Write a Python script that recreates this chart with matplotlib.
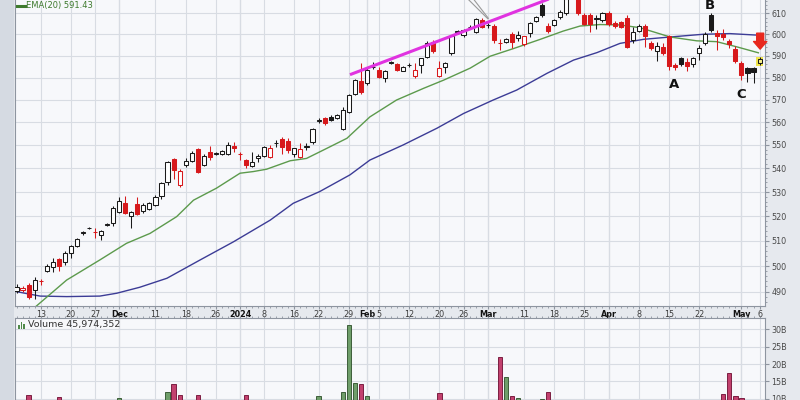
"""
Daily candlestick chart (Nov 2023 - May 2024) in a StockCharts-like style:
log price panel with EMA(20) and a slower moving average, a magenta trend line,
A/B/C swing labels, and a volume panel cut off at the bottom edge.
"""

import numpy as np
import matplotlib
matplotlib.use("Agg")
import matplotlib.pyplot as plt
from matplotlib.lines import Line2D
from matplotlib.patches import Rectangle
from matplotlib.ticker import FixedLocator, NullFormatter


# ---- data -----------------------------------------------------------------
OPEN = [490.2, 490.5, 492.6, 490.6, 494.3, 498.2, 499.5, 502.6, 501.7, 505.3,
        508.0, 513.0, 515.0, 513.5, 512.5, 516.5, 517.1, 521.8, 525.3, 520.0,
        524.9, 522.1, 523.1, 524.5, 528.5, 534.0, 543.8, 532.9, 541.4, 543.1,
        548.1, 541.4, 547.1, 546.2, 546.0, 546.0, 549.5, 546.1, 543.5, 540.9,
        544.2, 545.2, 544.9, 550.7, 552.4, 551.8, 546.3, 544.7, 549.2, 551.4,
        560.5, 561.7, 562.3, 561.9, 556.8, 564.6, 572.6, 578.5, 577.7, 584.8,
        583.4, 579.6, 586.7, 586.1, 583.1, 585.6, 580.6, 585.7, 589.5, 596.6,
        580.6, 584.7, 591.1, 601.2, 599.6, 603.5, 601.3, 607.0, 604.4, 604.0,
        596.2, 596.6, 600.4, 598.1, 595.4, 600.7, 606.5, 614.0, 604.0, 604.5,
        608.4, 610.1, 618.5, 617.5, 609.2, 609.2, 607.5, 606.9, 610.3, 605.4,
        605.8, 607.6, 597.3, 601.8, 604.0, 596.1, 592.3, 594.2, 599.1, 585.9,
        588.8, 587.2, 586.4, 591.1, 595.8, 609.2, 600.7, 600.4, 597.0, 593.1,
        586.7, 584.4, 584.2, 586.6]
HIGH = [493.0, 492.0, 493.2, 495.5, 495.0, 500.8, 503.0, 503.0, 505.8, 508.2,
        511.3, 514.0, 515.6, 515.1, 514.2, 517.3, 524.2, 527.9, 528.3, 522.3,
        527.9, 525.3, 526.0, 528.7, 534.4, 543.3, 544.3, 539.5, 544.2, 547.5,
        548.8, 546.0, 549.6, 547.0, 548.0, 551.1, 551.1, 547.1, 544.0, 547.1,
        546.3, 549.5, 550.0, 552.3, 553.3, 552.9, 548.9, 550.8, 550.8, 557.5,
        561.8, 562.3, 563.0, 563.5, 566.5, 572.5, 579.5, 586.7, 584.9, 587.0,
        584.9, 583.5, 587.5, 586.5, 585.5, 586.5, 586.5, 589.0, 596.8, 597.5,
        587.4, 587.2, 599.8, 602.0, 602.8, 604.5, 607.6, 608.0, 605.5, 605.0,
        597.8, 598.5, 601.3, 601.5, 599.5, 606.0, 609.0, 615.0, 605.5, 607.5,
        611.5, 618.0, 620.5, 618.5, 610.0, 610.0, 609.2, 610.8, 611.0, 606.5,
        606.5, 609.2, 603.6, 604.8, 604.8, 597.0, 596.6, 595.8, 599.8, 586.8,
        589.3, 588.8, 589.5, 594.9, 601.0, 610.0, 602.1, 602.8, 598.0, 594.5,
        587.6, 584.9, 584.6, 589.5]
LOW = [489.5, 490.0, 487.2, 487.3, 492.5, 497.6, 497.8, 498.2, 500.5, 503.0,
       507.5, 512.5, 514.6, 511.1, 510.3, 516.0, 516.2, 521.2, 520.8, 515.3,
       520.5, 521.5, 522.6, 524.0, 527.2, 532.9, 535.6, 532.2, 540.6, 542.5,
       538.2, 540.8, 543.5, 545.6, 545.5, 545.5, 547.1, 543.7, 540.0, 540.6,
       542.8, 544.8, 544.2, 549.3, 546.3, 546.6, 544.9, 544.2, 547.8, 550.5,
       559.5, 558.5, 560.3, 561.5, 556.3, 564.0, 572.0, 572.5, 576.4, 584.0,
       579.8, 578.1, 586.0, 583.0, 582.8, 585.0, 579.6, 581.9, 589.0, 591.5,
       580.3, 581.9, 590.5, 600.0, 599.0, 602.5, 600.8, 603.0, 603.0, 596.0,
       592.7, 596.0, 593.5, 597.0, 594.5, 598.8, 606.0, 608.5, 600.5, 604.0,
       607.5, 609.5, 617.5, 609.5, 604.5, 601.3, 602.8, 606.0, 604.0, 603.0,
       603.0, 593.5, 595.8, 601.3, 594.2, 592.8, 587.4, 590.4, 583.6, 583.6,
       585.5, 583.1, 585.0, 588.0, 595.0, 601.3, 592.7, 597.3, 593.5, 586.5,
       578.8, 578.1, 577.7, 585.7]
CLOSE = [491.8, 491.3, 487.8, 494.5, 494.2, 500.1, 501.7, 499.9, 505.3, 507.9,
         510.8, 513.4, 515.2, 513.4, 513.8, 516.8, 523.2, 526.3, 521.4, 521.8,
         521.0, 524.5, 525.3, 528.0, 533.7, 542.6, 539.3, 539.0, 543.1, 546.6,
         538.6, 545.2, 544.7, 546.4, 547.5, 550.0, 548.6, 546.0, 541.4, 542.8,
         545.2, 549.0, 548.6, 550.9, 549.3, 547.8, 548.6, 548.4, 549.4, 556.8,
         560.7, 559.8, 560.9, 563.0, 565.3, 572.0, 578.8, 573.5, 583.4, 585.0,
         580.3, 583.1, 586.9, 583.5, 584.9, 585.8, 583.6, 588.8, 596.1, 592.3,
         584.5, 586.8, 599.2, 601.4, 602.1, 603.7, 607.2, 603.6, 604.6, 597.4,
         596.1, 597.7, 596.6, 599.6, 599.2, 605.5, 608.4, 609.2, 601.7, 606.9,
         610.9, 617.0, 619.5, 610.0, 605.0, 604.8, 607.7, 610.0, 605.1, 604.0,
         603.5, 594.2, 601.3, 604.0, 599.2, 593.5, 594.5, 591.1, 585.3, 584.6,
         586.0, 585.1, 588.8, 593.5, 600.4, 602.2, 599.5, 599.0, 595.4, 587.4,
         581.2, 582.2, 582.4, 588.3]
# volume in the panel's own units (labels read "10B" ... "30B")
VOLUME = [7.2, 6.8, 11.1, 8.1, 6.5, 9.0, 7.4, 10.6, 8.3, 7.9,
          6.6, 5.9, 3.8, 6.2, 7.1, 7.5, 8.4, 10.1, 7.7, 6.9,
          7.3, 6.8, 7.0, 8.2, 9.1, 12.0, 14.2, 11.1, 8.8, 7.4,
          11.1, 8.6, 7.2, 5.4, 6.1, 5.8, 6.7, 8.0, 11.0, 8.3,
          7.1, 7.9, 8.5, 7.6, 8.0, 8.7, 9.2, 8.1, 7.3, 9.0,
          10.8, 7.9, 8.3, 7.0, 12.0, 31.2, 14.4, 14.2, 10.9, 9.3,
          8.6, 8.0, 7.5, 7.2, 7.9, 7.7, 9.4, 8.1, 8.9, 9.1,
          11.6, 8.2, 9.5, 7.4, 6.9, 7.3, 8.0, 8.6, 9.0, 9.2,
          21.9, 16.3, 10.8, 10.2, 9.1, 8.4, 8.7, 10.0, 12.0, 8.1,
          7.9, 8.6, 9.3, 8.4, 6.8, 7.1, 7.4, 6.9, 8.2, 7.7,
          7.3, 8.9, 8.0, 6.6, 7.8, 9.4, 7.5, 8.8, 9.3, 8.5,
          8.1, 7.6, 9.0, 7.4, 8.2, 9.1, 7.9, 11.4, 17.3, 10.8,
          10.3, 8.6, 8.9, 4.6]

EMA_IDX = [0.0, 3.3, 8.3, 13.8, 18.2, 22.1, 26.5, 29.3, 33.1, 37.0, 39.2, 41.4,
           45.3, 48.0, 50.8, 54.7, 58.5, 62.9, 67.4, 70.7, 75.1, 78.4, 82.3,
           86.7, 90.5, 93.3, 96.6, 99.9, 103.2, 108.2, 112.6, 115.9, 119.2, 122.8]
EMA_VAL = [478.5, 484.5, 494.5, 502.4, 509.0, 513.0, 519.8, 526.6, 531.6, 537.9,
           538.6, 539.6, 543.2, 544.2, 547.8, 552.9, 562.3, 569.8, 575.1, 578.8,
           584.3, 589.8, 593.4, 597.7, 601.6, 604.0, 604.7, 604.5, 603.2, 598.8,
           597.0, 596.6, 594.2, 591.4]
SMA_IDX = [0.0, 3.9, 8.3, 13.8, 16.6, 20.4, 24.9, 30.4, 35.9, 42.0, 45.8, 50.2,
           55.2, 58.5, 64.0, 69.6, 74.0, 78.9, 82.8, 87.8, 92.2, 96.1, 99.9,
           103.8, 108.2, 113.7, 118.1, 123.1]
SMA_VAL = [490.0, 488.3, 488.1, 488.3, 489.4, 491.7, 495.2, 502.4, 509.6, 518.4,
           525.3, 530.2, 537.2, 543.5, 550.0, 557.3, 563.8, 569.8, 574.3, 581.9,
           588.0, 591.5, 595.8, 597.7, 598.8, 600.1, 600.4, 599.6]

TREND_IDX = [55.2, 90.0]
TREND_VAL = [581.3, 619.1]
POINTER_IDX = [[74.4, 78.0], [75.4, 78.1]]
POINTER_VAL = [[617.9, 607.5], [617.9, 607.7]]

SWING_LABELS = ["A", "B", "C"]
SWING_IDX = [108.9, 114.8, 119.9]
SWING_VAL = [576.6, 614.0, 572.1]

TICK_POS = [4, 9, 13, 17, 23, 28, 33, 37, 41, 46, 50, 55, 58, 60, 65, 70, 74,
            78, 84, 89, 94, 98, 103, 108, 113, 120, 123]
TICK_LABELS = ["13", "20", "27", "Dec", "11", "18", "26", "2024", "8", "16",
               "22", "29", "Feb", "5", "12", "20", "26", "Mar", "11", "18",
               "25", "Apr", "8", "15", "22", "May", "6"]
MONTH_LABELS = ["Dec", "2024", "Feb", "Mar", "Apr", "May"]

PRICE_TICKS = [490, 500, 510, 520, 530, 540, 550, 560, 570, 580, 590, 600, 610]
VOL_TICKS = [10, 15, 20, 25, 30]
VOL_LABELS = ["10B", "15B", "20B", "25B", "30B"]

# ---- style -----------------------------------------------------------------
FIG_BG = "#e6e9ee"
PANEL_BG = "#f7f8fb"
GRID = "#d8dce3"
GRID_MONTH = "#b4bac3"
SPINE = "#8e95a0"
RED = "#d7191c"
BLACK = "#1a1a1a"
EMA_COLOR = "#5c9a4c"
SMA_COLOR = "#3c3c96"
TREND_COLOR = "#e033e0"
VOL_UP, VOL_UP_EDGE = "#6f9e6a", "#3d5e3a"
VOL_DN, VOL_DN_EDGE = "#c2416e", "#7c1f42"

W, H = 800, 400
X_LIM = (-0.25, 123.9)


def fig_xy(px, py):
    """Pixel position (from top-left) -> figure fraction."""
    return px / W, 1 - py / H


def style_x(ax):
    ax.set_xlim(*X_LIM)
    ax.set_xticks(TICK_POS)
    ax.set_xticks(np.arange(len(CLOSE)), minor=True)
    ax.grid(axis="x", which="major", color=GRID, linewidth=0.8, zorder=0)
    for pos, lab in zip(TICK_POS, TICK_LABELS):
        if lab in MONTH_LABELS:
            ax.axvline(pos, color=GRID_MONTH, linewidth=0.8, zorder=0.5)


fig = plt.figure(figsize=(8, 4), dpi=100, facecolor=FIG_BG)
fig.add_artist(Rectangle((0, 0), 14 / W, 1, transform=fig.transFigure,
                         facecolor="#d5dae2", edgecolor="none", zorder=0))

# ---- price panel -----------------------------------------------------------
ax = fig.add_axes([15 / W, 1 - 306 / H, 750 / W, 306 / H], facecolor=PANEL_BG)
ax.set_yscale("log")
ax.set_ylim(484.5, 616.5)
style_x(ax)

o, h, l, c = (np.array(v) for v in (OPEN, HIGH, LOW, CLOSE))
x = np.arange(len(c))
prev = np.r_[c[0], c[:-1]]
colors = np.where(c < prev, RED, BLACK)
hollow = c >= o
body_lo = np.minimum(o, c)
body_hi = np.maximum(o, c)
body_h = np.maximum(body_hi - body_lo, 0.05)

ax.plot(SMA_IDX, SMA_VAL, color=SMA_COLOR, linewidth=1.0, zorder=2)
ax.plot(EMA_IDX, EMA_VAL, color=EMA_COLOR, linewidth=1.0, zorder=2)

# yellow highlight behind the latest candle
ax.bar(x[-1], 4.2, bottom=body_lo[-1] - 1.4, width=1.25, color="#f2e64c",
       edgecolor="none", zorder=2.2)

ax.vlines(x, l, h, colors=colors, linewidth=0.75, zorder=2.5)
faces = np.where(hollow, "white", colors).astype(object)
faces[-1] = "#f7f08a"
ax.bar(x, body_h, bottom=body_lo, width=0.68, color=list(faces),
       edgecolor=list(colors), linewidth=0.75, zorder=3)

ax.plot(TREND_IDX, TREND_VAL, color=TREND_COLOR, linewidth=2.2, zorder=4,
        solid_capstyle="butt")
for px, pv in zip(POINTER_IDX, POINTER_VAL):
    ax.plot(px, pv, color="#9a9a9a", linewidth=0.8, zorder=4)

for lab, sx, sv in zip(SWING_LABELS, SWING_IDX, SWING_VAL):
    ax.text(sx, sv, lab, fontsize=9.5, fontweight="bold", color="#111111",
            ha="center", va="center", zorder=5)

ax.annotate("", xy=(123.1, 593.1), xytext=(123.1, 600.6),
            arrowprops=dict(arrowstyle="simple,head_width=0.95,head_length=0.55,"
                                       "tail_width=0.5",
                            fc="#e8281e", ec="#e8281e", shrinkA=0, shrinkB=0),
            zorder=6)

ax.yaxis.tick_right()
ax.set_yticks(PRICE_TICKS)
ax.set_yticklabels([str(v) for v in PRICE_TICKS])
ax.yaxis.set_minor_locator(FixedLocator(np.arange(486, 617, 2)))
ax.yaxis.set_minor_formatter(NullFormatter())
ax.grid(axis="y", which="major", color=GRID, linewidth=0.8, zorder=0)
ax.tick_params(axis="y", which="major", length=3, pad=1.5, labelsize=5.8,
               color=SPINE, labelcolor="#4a4a4a")
ax.tick_params(axis="y", which="minor", length=1.5, color=SPINE)
ax.tick_params(axis="x", which="major", length=2, pad=1.2, labelsize=5.8,
               color=SPINE, labelcolor="#3a3a3a")
ax.tick_params(axis="x", which="minor", length=1.5, color=SPINE)
ax.set_xticklabels(TICK_LABELS)
for t in ax.get_xticklabels():
    if t.get_text() in MONTH_LABELS:
        t.set_fontweight("bold")
        t.set_color("#111111")
ax.spines["top"].set_visible(False)
for side in ("left", "right", "bottom"):
    ax.spines[side].set_color(SPINE)
    ax.spines[side].set_linewidth(0.8)

# ---- volume panel (runs past the bottom of the picture) ---------------------
axv = fig.add_axes([15 / W, 1 - 433.4 / H, 750 / W, 115.4 / H], facecolor=PANEL_BG)
axv.set_ylim(0, 33.26)
style_x(axv)
vol = np.array(VOLUME)
up = c >= prev
axv.bar(x, vol, width=0.7,
        color=np.where(up, VOL_UP, VOL_DN), edgecolor=np.where(up, VOL_UP_EDGE, VOL_DN_EDGE),
        linewidth=0.7, zorder=3)
axv.xaxis.tick_top()
axv.tick_params(axis="x", which="both", labeltop=False, labelbottom=False,
                length=1.5, color=SPINE)
axv.yaxis.tick_right()
axv.set_yticks(VOL_TICKS)
axv.set_yticklabels(VOL_LABELS)
axv.grid(axis="y", color=GRID, linewidth=0.8, zorder=0)
axv.tick_params(axis="y", length=3, pad=1.5, labelsize=5.8, color=SPINE,
                labelcolor="#4a4a4a")
for side in ("left", "right", "top"):
    axv.spines[side].set_color(SPINE)
    axv.spines[side].set_linewidth(0.8)

# ---- panel captions ---------------------------------------------------------
fig.add_artist(Line2D([17 / W, 25 / W], [1 - 5.5 / H] * 2, transform=fig.transFigure,
                      color="#3e7a2e", linewidth=2.2))
fig.text(*fig_xy(26, 5.5), "EMA(20) 591.43", fontsize=6, color="#3e7a2e",
         ha="left", va="center")

for bx, bh in zip([18, 20.5, 23], [4, 7, 5.5]):
    fig.add_artist(Rectangle(fig_xy(bx, 329), 1.8 / W, bh / H, transform=fig.transFigure,
                             facecolor="#4f8a49", edgecolor="none"))
fig.text(*fig_xy(28, 325), "Volume 45,974,352", fontsize=6.8, color="#333333",
         ha="left", va="center")

fig.savefig("out.png", dpi=100, facecolor=FIG_BG)
